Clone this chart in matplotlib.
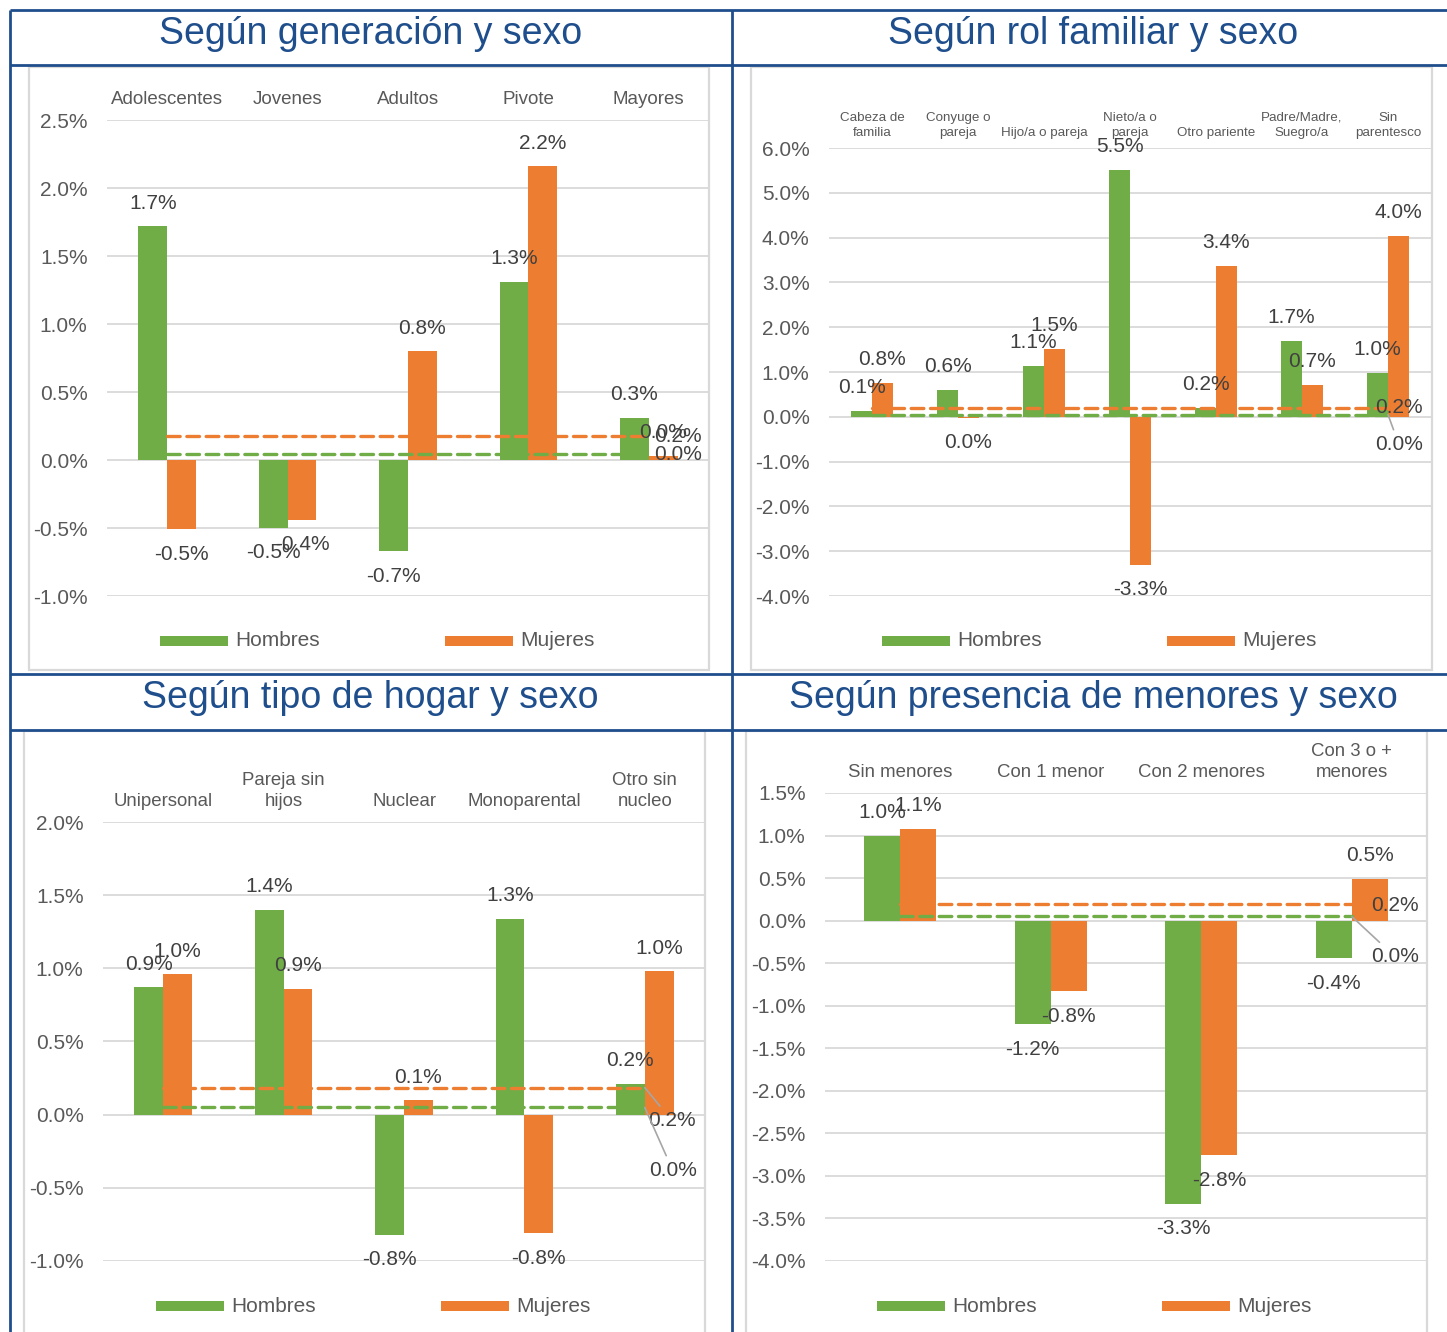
import matplotlib
matplotlib.use('Agg')
import matplotlib.pyplot as plt
from matplotlib.patches import Rectangle
from matplotlib.lines import Line2D
from matplotlib.ticker import FuncFormatter
import numpy as np

plt.rcParams['font.family'] = ['Liberation Sans', 'DejaVu Sans']

# ---------------- data ----------------
gen_title = 'Según generación y sexo'
gen_cats = ['Adolescentes', 'Jovenes', 'Adultos', 'Pivote', 'Mayores']
gen_h = [1.72, -0.50, -0.67, 1.31, 0.31]
gen_m = [-0.51, -0.44, 0.80, 2.16, 0.03]
gen_avg_h = 0.045
gen_avg_m = 0.18

rol_title = 'Según rol familiar y sexo'
rol_cats = ['Cabeza de\nfamilia', 'Conyuge o\npareja', 'Hijo/a o pareja', 'Nieto/a o\npareja',
            'Otro pariente', 'Padre/Madre,\nSuegro/a', 'Sin\nparentesco']
rol_h = [0.13, 0.60, 1.14, 5.51, 0.20, 1.70, 0.98]
rol_m = [0.76, -0.02, 1.52, -3.30, 3.37, 0.71, 4.04]
rol_avg_h = 0.049
rol_avg_m = 0.20

hog_title = 'Según tipo de hogar y sexo'
hog_cats = ['Unipersonal', 'Pareja sin\nhijos', 'Nuclear', 'Monoparental', 'Otro sin\nnucleo']
hog_h = [0.87, 1.40, -0.82, 1.34, 0.21]
hog_m = [0.96, 0.86, 0.10, -0.81, 0.98]
hog_avg_h = 0.049
hog_avg_m = 0.185

men_title = 'Según presencia de menores y sexo'
men_cats = ['Sin menores', 'Con 1 menor', 'Con 2 menores', 'Con 3 o +\nmenores']
men_h = [1.00, -1.22, -3.33, -0.44]
men_m = [1.08, -0.83, -2.76, 0.49]
men_avg_h = 0.049
men_avg_m = 0.19

series_names = ['Hombres', 'Mujeres']

# ---------------- style ----------------
W, H = 1447, 1332
GREEN = '#70AD47'
ORANGE = '#ED7D31'
BLUE = '#1F4E8C'
GRID = '#D9D9D9'
TXT = '#404040'
TICK = '#595959'
LEADER = '#A6A6A6'

fig = plt.figure(figsize=(W / 100, H / 100), dpi=100)


def fmt(v):
    if abs(v) < 0.05:
        v = 0.0
    return f"{v:.1f}%"


def add_line(x0, y0, x1, y1, color, lw):
    fig.add_artist(Line2D([x0 / W, x1 / W], [1 - y0 / H, 1 - y1 / H],
                          transform=fig.transFigure, color=color, lw=lw,
                          solid_capstyle='butt'))


def panel(title, title_xy, box, axbox, cats, h, m, avg_h, avg_m, ylim, step,
          cat_fs, cat_pad, cat_ls, legend_xy, avg_offsets):
    # chart border
    bx0, by0, bx1, by1 = box
    fig.add_artist(Rectangle((bx0 / W, 1 - by1 / H), (bx1 - bx0) / W, (by1 - by0) / H,
                             transform=fig.transFigure, fill=False,
                             edgecolor=GRID, lw=1.6))
    fig.text(title_xy[0] / W, 1 - title_xy[1] / H, title, ha='center', va='center',
             fontsize=27, color=BLUE)
    l, t, r, b = axbox
    ax = fig.add_axes([l / W, 1 - b / H, (r - l) / W, (b - t) / H])
    n = len(cats)
    x = np.arange(n)
    w = 0.24
    ax.bar(x - w / 2, h, w, color=GREEN, zorder=2)
    ax.bar(x + w / 2, m, w, color=ORANGE, zorder=2)
    ax.set_xlim(-0.5, n - 0.5)
    ax.set_ylim(*ylim)
    ticks = np.arange(ylim[0], ylim[1] + 1e-9, step)
    ax.set_yticks(ticks)
    ax.yaxis.set_major_formatter(FuncFormatter(lambda v, p: f"{0.0 if abs(v) < 1e-9 else v:.1f}%"))
    ax.tick_params(axis='y', length=0, pad=14, labelsize=15, labelcolor=TICK)
    ax.set_xticks([])
    ax.grid(axis='y', color=GRID, lw=1.3)
    ax.set_axisbelow(True)
    for s in ax.spines.values():
        s.set_visible(False)
    ax.patch.set_alpha(0)
    # category labels on top
    for i, c in enumerate(cats):
        ax.annotate(c, xy=(i, 1), xycoords=('data', 'axes fraction'),
                    xytext=(0, cat_pad), textcoords='offset pixels',
                    ha='center', va='bottom', fontsize=cat_fs, color=TICK,
                    linespacing=cat_ls, annotation_clip=False)
    # average lines
    ax.plot([0, n - 1], [avg_m, avg_m], color=ORANGE, lw=2.4, ls=(0, (3.8, 2.0)),
            dash_capstyle='round', zorder=3)
    ax.plot([0, n - 1], [avg_h, avg_h], color=GREEN, lw=2.4, ls=(0, (3.8, 2.0)),
            dash_capstyle='round', zorder=3)
    # bar labels
    for xs, vals in ((x - w / 2, h), (x + w / 2, m)):
        for xi, v in zip(xs, vals):
            off = 23 if v >= 0 else -25
            ax.annotate(fmt(v), xy=(xi, v), xytext=(0, off), textcoords='offset pixels',
                        ha='center', va='center', fontsize=15, color=TXT,
                        annotation_clip=False, zorder=5)
    # average labels
    (om, lm), (oh, lh) = avg_offsets
    for val, off, lead in ((avg_m, om, lm), (avg_h, oh, lh)):
        kw = {}
        if lead:
            kw['arrowprops'] = dict(arrowstyle='-', color=LEADER, lw=1.2,
                                    shrinkA=2, shrinkB=0)
        ax.annotate(fmt(val), xy=(n - 1, val), xytext=off, textcoords='offset pixels',
                    ha='center', va='center', fontsize=15, color=TXT,
                    annotation_clip=False, zorder=5, **kw)
    # legend
    lx, ly, gap = legend_xy
    for k, (col, name) in enumerate(zip((GREEN, ORANGE), series_names)):
        x0 = lx + k * gap
        fig.add_artist(Rectangle((x0 / W, 1 - (ly + 5) / H), 68 / W, 10 / H,
                                 transform=fig.transFigure, color=col, lw=0))
        fig.text((x0 + 75) / W, 1 - ly / H, name, ha='left', va='center',
                 fontsize=15, color=TICK)
    return ax


panel(gen_title, (371, 34), (29, 67, 709, 670), (107, 120, 709, 596),
      gen_cats, gen_h, gen_m, gen_avg_h, gen_avg_m, (-1.0, 2.5), 0.5,
      13.5, 12, 1.1, (160, 641, 285),
      (((29, -1), False), ((29, -1), False)))

panel(rol_title, (1093, 34), (751, 67, 1432, 670), (829, 148, 1431, 596),
      rol_cats, rol_h, rol_m, rol_avg_h, rol_avg_m, (-4.0, 6.0), 1.0,
      9.6, 9, 1.35, (882, 641, 285),
      (((11, 0), False), ((11, -30), True)))

panel(hog_title, (370, 698), (24, 731, 705, 1340), (103, 822, 705, 1261),
      hog_cats, hog_h, hog_m, hog_avg_h, hog_avg_m, (-1.0, 2.0), 0.5,
      13.4, 12, 1.27, (156, 1306, 285),
      (((27, -33), True), ((28, -63), True)))

panel(men_title, (1093, 698), (746, 731, 1427, 1340), (825, 793, 1427, 1261),
      men_cats, men_h, men_m, men_avg_h, men_avg_m, (-4.0, 1.5), 0.5,
      13.4, 12, 1.27, (877, 1306, 285),
      (((43, -1), False), ((43, -40), True)))

# blue table frame
for yy in (10, 65, 674, 730):
    add_line(10, yy, W, yy, BLUE, 2)
for xx in (10, 732):
    add_line(xx, 10, xx, H, BLUE, 2)

fig.savefig('out.png', dpi=100)
